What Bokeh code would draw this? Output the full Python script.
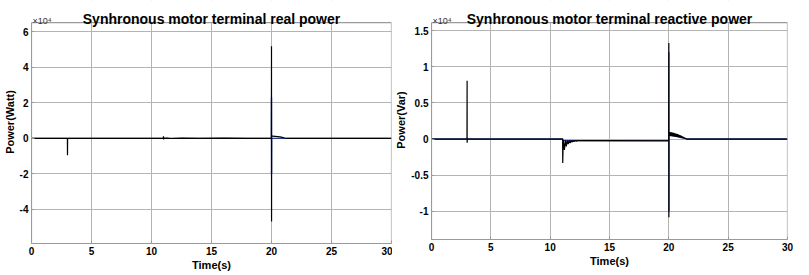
from bokeh.plotting import figure
from bokeh.layouts import row
from bokeh.models import FixedTicker, CustomJSTickFormatter, Label, Range1d, BoxAnnotation
from bokeh.embed import file_html
from bokeh.resources import INLINE

# ---------------- data ----------------
x_ticks = [0, 5, 10, 15, 20, 25, 30]
p_ticks = [-40000, -20000, 0, 20000, 40000, 60000]
q_ticks = [-10000, -5000, 0, 5000, 10000, 15000]

# real power (W), main (black) trace
p_t = [0, 2.99, 3.0, 3.01, 10.98, 11.0, 11.01, 11.03, 11.06, 11.3, 11.6, 12.5, 14.0, 16.0, 18.0, 19.99,
       20.0, 20.005, 20.01, 20.1, 20.3, 20.5, 20.7, 20.9, 21.1, 21.3, 30]
p_w = [0, 0, -9500, 0, 0, 1200, -600, 300, 0, 150, -100, 100, -80, 80, -60, 0,
       51800, -46800, 1500, 1200, 1100, 1000, 800, 500, 200, 0, 0]
# real power, secondary (blue) trace
p2_t = [0, 19.99, 20.0, 20.005, 20.01, 30]
p2_w = [0, 0, 23000, -20000, 0, 0]

# reactive power (Var), main (black) trace
q_t = [0, 2.99, 3.0, 3.005, 3.02, 10.95, 11.05, 11.06, 11.1, 11.2, 11.28, 11.36, 11.44, 11.52, 11.6, 11.68,
       11.76, 11.84, 11.92, 12.0, 12.1, 12.2, 12.3, 12.5, 15.0, 19.99, 20.0, 20.005, 20.01,
       20.02, 20.06, 20.10, 20.14, 20.18, 20.22, 20.26, 20.30, 20.34, 20.38, 20.42, 20.46, 20.50,
       20.54, 20.58, 20.62, 20.66, 20.70, 20.74, 20.78, 20.82, 20.86, 20.90, 20.94, 20.98, 21.02,
       21.06, 21.10, 21.14, 21.18, 21.22, 21.26, 21.30, 21.34, 21.38, 21.42, 21.46, 21.50, 21.6, 30]
q_var = [0, 0, 8050, -500, 0, 0, 0, -3300, -150, -1500, -150, -1000, -200, -700, -200, -550,
         -200, -420, -200, -330, -200, -280, -200, -220, -200, -230, 13300, -10800, 1000,
         1000, 420, 980, 410, 950, 400, 920, 400, 880, 380, 850, 370, 800,
         350, 760, 330, 720, 310, 680, 290, 620, 260, 560, 230, 500, 200,
         440, 170, 380, 140, 300, 110, 230, 70, 160, 40, 80, 0, 0, 0]
# reactive power, secondary (blue) trace
q2_t = [0, 10.95, 11.06, 11.1, 19.99, 20.0, 20.005, 20.01, 21.6, 30]
q2_var = [0, 0, 0, -200, -230, 12000, -10000, 600, 0, 0]

FONT = "'Liberation Sans', Arial, sans-serif"
GRAY = "#9a9a9a"
HEAD_PX = 22      # space between frame top and plot box, holding the title


def make_fig(title, ylabel, width, height, box_px, y_bot, y_top, yticks,
             border_left, border_right, t1, y1, t2, y2):
    y_end = y_top + (y_top - y_bot) * HEAD_PX / box_px
    p = figure(width=width, height=height, output_backend="svg", toolbar_location=None,
               title_location=None,
               x_range=Range1d(0, 30), y_range=Range1d(y_bot, y_end),
               min_border_left=border_left, min_border_right=border_right,
               min_border_top=0, min_border_bottom=20)

    p.line(t2, y2, line_color="#2a3f9a", line_width=1.4)
    p.line(t1, y1, line_color="black", line_width=1.2)

    p.xaxis.ticker = FixedTicker(ticks=x_ticks)
    p.yaxis.ticker = FixedTicker(ticks=yticks)
    p.yaxis.bounds = (y_bot, y_top)
    p.yaxis.formatter = CustomJSTickFormatter(code="return String(Math.round(tick/1e4*100)/100);")
    for ax in (p.xaxis, p.yaxis):
        ax.major_label_text_font = FONT
        ax.major_label_text_font_style = "bold"
        ax.major_label_text_font_size = "10px"
        ax.major_label_text_color = "black"
        ax.axis_label_text_font = FONT
        ax.axis_label_text_font_style = "bold"
        ax.axis_label_text_font_size = "11px"
        ax.axis_label_text_color = "black"
        ax.axis_line_color = GRAY
        ax.major_tick_out = 0
        ax.major_tick_in = 3
        ax.major_tick_line_color = GRAY
        ax.minor_tick_line_color = None
        ax.major_label_standoff = 3
        ax.axis_label_standoff = 1
    p.xaxis.axis_label = "Time(s)"
    p.yaxis.axis_label = ylabel
    p.xgrid.ticker = FixedTicker(ticks=x_ticks)
    p.ygrid.ticker = FixedTicker(ticks=yticks)
    p.grid.grid_line_color = "#b4b4b4"
    p.grid.grid_line_alpha = 1.0
    p.outline_line_color = None
    p.background_fill_color = "white"
    p.border_fill_color = "white"

    # white head area above the plot box (hides the grid there)
    p.add_layout(BoxAnnotation(bottom=y_top, fill_color="white", fill_alpha=1.0,
                               line_color=None, level="annotation"))
    # plot box
    p.add_layout(BoxAnnotation(left=0, right=30, bottom=y_bot, top=y_top, fill_alpha=0,
                               line_color=GRAY, line_width=1.2, line_alpha=1.0, level="annotation"))
    # title and exponent
    p.add_layout(Label(x=15, y=y_top, y_offset=4, text=title, text_font=FONT,
                       text_font_size="14px", text_font_style="bold", text_color="black",
                       text_align="center", text_baseline="alphabetic", level="overlay"))
    p.add_layout(Label(x=0, y=y_top, x_offset=1, y_offset=2, text="\u00d710\u2074", text_font=FONT,
                       text_font_size="9px", text_color="#333333",
                       text_align="left", text_baseline="alphabetic", level="overlay"))
    return p


p1 = make_fig("Synhronous motor terminal real power", "Power(Watt)", 392, 273, 219,
              -59200, 65100, p_ticks, 21, 1, p_t, p_w, p2_t, p2_w)
p2 = make_fig("Synhronous motor terminal reactive power", "Power(Var)", 401, 269, 216,
              -13890, 16110, q_ticks, 30, 6, q_t, q_var, q2_t, q2_var)

layout = row(p1, p2)
open("out.html", "w").write(file_html(layout, INLINE))
